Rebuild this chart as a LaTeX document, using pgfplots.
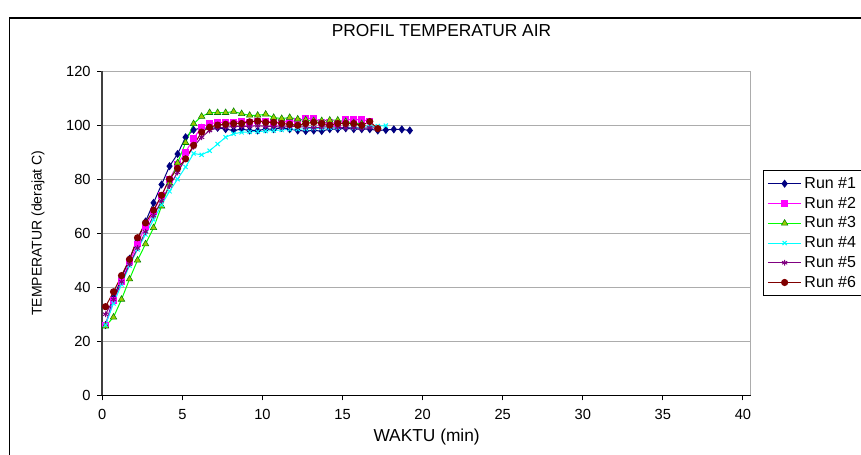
\documentclass[border=0pt]{standalone}
\usepackage{fontspec}
\setmainfont{Liberation Sans}
\usepackage{pgfplots}
\pgfplotsset{compat=1.18}

\definecolor{cNavy}{HTML}{000080}
\definecolor{cMag}{HTML}{FF00FF}
\definecolor{cGreen}{HTML}{00FF00}
\definecolor{cOlive}{HTML}{99CC00}
\definecolor{cCyan}{HTML}{00FFFF}
\definecolor{cPurp}{HTML}{800080}
\definecolor{cMaroon}{HTML}{800000}

\begin{document}
\begin{tikzpicture}
\useasboundingbox (0,0) rectangle (645.75pt,340.5pt);
\clip (0,0) rectangle (645.75pt,340.5pt);
\fill[white] (0,0) rectangle (645.75pt,340.5pt);
\draw[black, line width=0.8pt] (7.1pt,-5pt) -- (7.1pt,327pt) -- (700pt,327pt);
\node[font=\fontsize{13}{15}\selectfont] at (331.1pt,317.6pt) {PROFIL TEMPERATUR AIR};
\begin{axis}[
  at={(76.725pt,44.025pt)}, anchor=south west,
  scale only axis, width=486.5pt, height=243.2pt,
  xmin=0, xmax=40.5, ymin=0, ymax=120,
  xtick={0,5,...,40}, ytick={0,20,...,120},
  axis x line*=bottom, axis y line*=left,
  x axis line style={black, line width=1pt, -},
  y axis line style={black!75, line width=1.5pt, -},
  tick align=outside, major tick length=3.75pt,
  tick style={black, line width=0.75pt},
  ymajorgrids, grid style={gray!65, line width=0.75pt},
  ticklabel style={font=\fontsize{11}{13}\selectfont},
  yticklabel style={xshift=-1.5pt},
  xticklabel style={yshift=-3pt},
  /pgf/number format/assume math mode=true,
  xlabel={WAKTU (min)}, ylabel={TEMPERATUR (derajat C)},
  xlabel style={font=\fontsize{13}{15}\selectfont, at={(axis description cs:0.5,-0.1286)}, anchor=center},
  ylabel style={font=\fontsize{10.5}{12}\selectfont, at={(axis description cs:-0.099,0.5)}, anchor=center},
  legend style={at={(axis description cs:1.0185,0.6947)}, anchor=north west,
    draw=black, line width=0.75pt, font=\fontsize{12}{14}\selectfont,
    row sep=1pt, inner sep=3pt},
  legend cell align=left,
  legend image code/.code={\draw[mark repeat=2,mark phase=2] plot coordinates {(0pt,0pt) (12.5pt,0pt) (25pt,0pt)};},
  every axis plot/.append style={line width=0.75pt},
]
\draw[gray!65, line width=0.75pt] (rel axis cs:1,0) -- (rel axis cs:1,1);

\addplot[color=cNavy, mark=diamond*, mark size=2.5pt, mark options={fill=cNavy, draw=cNavy}] coordinates {
(0.2,26) (0.7,36) (1.2,43.5) (1.7,50.5) (2.2,57.5) (2.7,64.3) (3.2,71.2) (3.7,78) (4.2,84.8) (4.7,89.3)
(5.2,95.5) (5.7,98.2) (6.2,99) (6.7,98.8) (7.2,99) (7.7,98.5) (8.2,98) (8.7,98.5) (9.2,98) (9.7,98)
(10.2,98.5) (10.7,98.5) (11.2,99) (11.7,98.5) (12.2,98) (12.7,97.8) (13.2,98) (13.7,97.8) (14.2,98.5) (14.7,98.5)
(15.2,98.8) (15.7,98.5) (16.2,98.5) (16.7,98.5) (17.2,98) (17.7,98.2) (18.2,98.4) (18.7,98.4) (19.2,98)
};
\addlegendentry{Run \#1}

\addplot[color=cMag, mark=square*, mark size=2.2pt, mark options={fill=cMag, draw=cMag}] coordinates {
(0.2,26) (0.7,35) (1.2,42) (1.7,49.5) (2.2,56) (2.7,62.5) (3.2,68) (3.7,74) (4.2,80) (4.7,85.5)
(5.2,90) (5.7,95) (6.2,99.3) (6.7,100.5) (7.2,101) (7.7,101) (8.2,101) (8.7,101.5) (9.2,101) (9.7,101.5)
(10.2,101.5) (10.7,101) (11.2,101) (11.7,101.5) (12.2,101.5) (12.7,102.5) (13.2,102.5) (13.7,101) (14.2,101) (14.7,100.5)
(15.2,102) (15.7,102) (16.2,102) (16.7,101.5)
};
\addlegendentry{Run \#2}

\addplot[color=cGreen, mark=triangle*, mark size=2.8pt, mark options={fill=cOlive, draw=green!50!black, line width=0.4pt}] coordinates {
(0.2,25.6) (0.7,28.9) (1.2,35.5) (1.7,43) (2.2,50) (2.7,56) (3.2,62) (3.7,70) (4.2,78.5) (4.7,86)
(5.2,93.5) (5.7,100.5) (6.2,103.2) (6.7,104.6) (7.2,104.6) (7.7,104.6) (8.2,105) (8.7,104.2) (9.2,103.6) (9.7,103.6)
(10.2,104) (10.7,102.8) (11.2,102.4) (11.7,102.8) (12.2,102.2) (12.7,101.9) (13.2,101.6) (13.7,101.6) (14.2,101.8) (14.7,101.8)
(15.2,101.3) (15.7,100.8) (16.2,100.5)
};
\addlegendentry{Run \#3}

\addplot[color=cCyan, mark=x, mark size=2.2pt, mark options={draw=cCyan}] coordinates {
(0.2,26) (0.7,34) (1.2,41) (1.7,48) (2.2,54) (2.7,59.5) (3.2,65) (3.7,70.5) (4.2,75.5) (4.7,80)
(5.2,84.5) (5.7,89.5) (6.2,89) (6.7,90.5) (7.2,93) (7.7,95.5) (8.2,96.8) (8.7,97.3) (9.2,97.5) (9.7,97.6)
(10.2,97.8) (10.7,98) (11.2,98.2) (11.7,98.4) (12.2,98.5) (12.7,98.6) (13.2,98.8) (13.7,98.8) (14.2,99) (14.7,99)
(15.2,99.2) (15.7,99) (16.2,99.2) (16.7,99.4) (17.2,99.6) (17.7,99.8)
};
\addlegendentry{Run \#4}

\addplot[color=cPurp, mark=asterisk, mark size=2.2pt, mark options={draw=cPurp}] coordinates {
(0.2,30) (0.7,35.5) (1.2,42) (1.7,48.5) (2.2,54.5) (2.7,60.5) (3.2,66.5) (3.7,72) (4.2,77.5) (4.7,82.5)
(5.2,87.5) (5.7,92) (6.2,95.5) (6.7,98) (7.2,99) (7.7,99.2) (8.2,99.5) (8.7,99.5) (9.2,99.5) (9.7,99.8)
(10.2,99.5) (10.7,99.5) (11.2,99.2) (11.7,99.5) (12.2,99.5) (12.7,99.2) (13.2,99) (13.7,99.2) (14.2,99.5) (14.7,99.2)
(15.2,99) (15.7,99) (16.2,98.8) (16.7,99) (17.2,99)
};
\addlegendentry{Run \#5}

\addplot[color=cMaroon, mark=*, mark size=2.3pt, mark options={fill=cMaroon, draw=cMaroon}] coordinates {
(0.2,32.8) (0.7,38.3) (1.2,44.3) (1.7,50.3) (2.2,58.3) (2.7,63.8) (3.2,68.5) (3.7,74) (4.2,80) (4.7,84)
(5.2,87.5) (5.7,92.5) (6.2,97.4) (6.7,99.2) (7.2,100) (7.7,100.3) (8.2,100.6) (8.7,100.6) (9.2,101.2) (9.7,101.5)
(10.2,101) (10.7,101) (11.2,100.6) (11.7,100.3) (12.2,99.9) (12.7,100.6) (13.2,101) (13.7,100.6) (14.2,100) (14.7,100.6)
(15.2,100.6) (15.7,100.6) (16.2,99.9) (16.7,101.3) (17.2,98.7)
};
\addlegendentry{Run \#6}
\end{axis}
\end{tikzpicture}
\end{document}
